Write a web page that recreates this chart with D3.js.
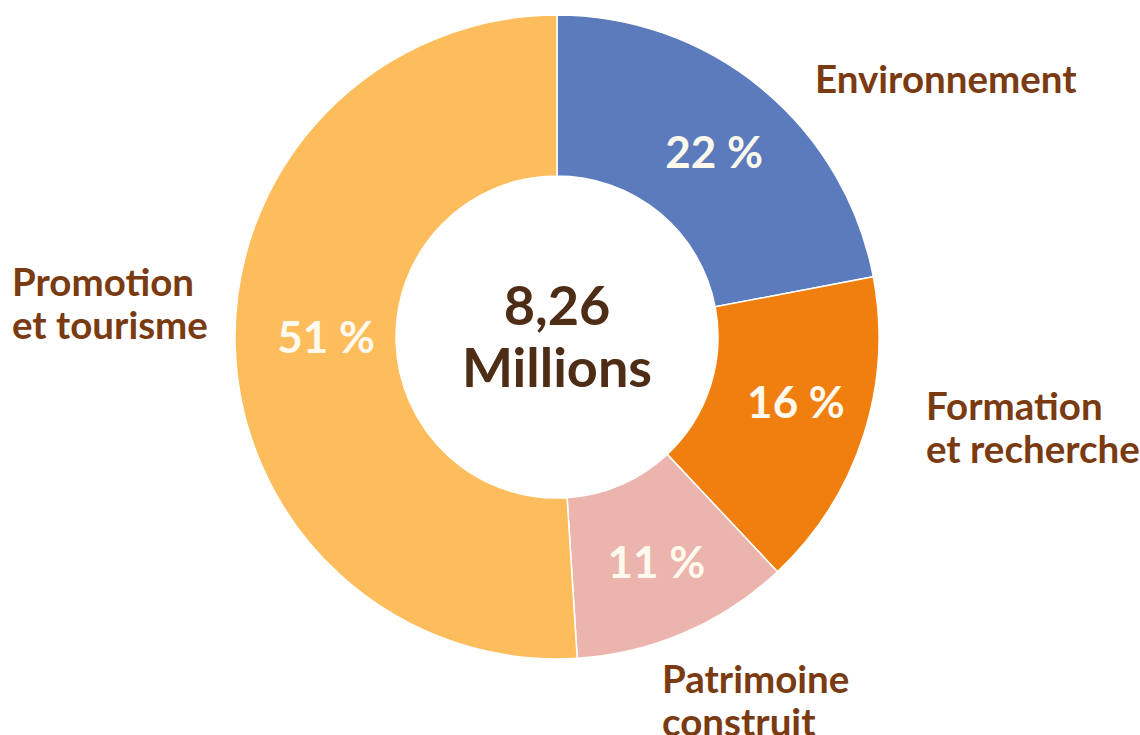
<!DOCTYPE html>
<html>
<head>
<meta charset="utf-8">
<script src="https://cdn.jsdelivr.net/npm/d3@7"></script>
<style>
  body { margin: 0; background: #fff; }
  text { font-family: "Source Sans Pro", Lato, "Open Sans", sans-serif; font-weight: 700; }
</style>
</head>
<body>
<div id="chart-area"></div>
<script>
const categories = ['Environnement', 'Formation et recherche', 'Patrimoine construit', 'Promotion et tourisme'];
const values = [22, 16, 11, 51];
const colors = ['#5B7BBD', '#F07F10', '#EBB4AD', '#FDBD5C'];
// outside labels, split in lines
const labelLines = [['Environnement'], ['Formation', 'et recherche'], ['Patrimoine', 'construit'], ['Promotion', 'et tourisme']];
const centerLines = ['8,26', 'Millions'];

const width = 1140;
const height = 735;
const cx = 557, cy = 337;
const outerR = 322, innerR = 161;

const svg = d3.select('#chart-area').append('svg')
  .attr('width', width)
  .attr('height', height);

const chart = svg.append('g')
  .attr('transform', `translate(${cx},${cy})`);

const data = categories.map((c, i) => ({ name: c, value: values[i], color: colors[i], lines: labelLines[i] }));

const pie = d3.pie().sort(null).value(d => d.value);
const arcs = pie(data);

const arc = d3.arc().innerRadius(innerR).outerRadius(outerR);
const labelArc = d3.arc().innerRadius(245).outerRadius(245);
// small nudges of the percent labels off the centroid
const pctNudge = [[1, 4], [6, -11], [2, 0], [14, -8]];

chart.selectAll('path')
  .data(arcs)
  .enter()
  .append('path')
    .attr('d', arc)
    .attr('fill', d => d.data.color)
    .attr('stroke', '#fff')
    .attr('stroke-width', 1.5);

// percentages
chart.selectAll('.pct')
  .data(arcs)
  .enter()
  .append('text')
    .attr('class', 'pct')
    .attr('transform', (d, i) => {
      const c = labelArc.centroid(d);
      return `translate(${c[0] + pctNudge[i][0]},${c[1] + pctNudge[i][1]})`;
    })
    .attr('text-anchor', 'middle')
    .attr('dy', '0.36em')
    .attr('fill', '#FFF9EE')
    .attr('font-size', '44px')
    .text(d => d.data.value + ' %');

// outside labels (positions relative to the chart center)
const labelPos = [[258, -244], [369, 83], [105, 356], [-545, -41]];
const lineH = 43;

chart.selectAll('.lbl')
  .data(arcs)
  .enter()
  .append('text')
    .attr('class', 'lbl')
    .attr('x', (d, i) => labelPos[i][0])
    .attr('y', (d, i) => labelPos[i][1])
    .attr('fill', '#7A3A12')
    .attr('font-size', '38.5px')
    .selectAll('tspan')
    .data(d => d.data.lines)
    .enter()
    .append('tspan')
      .attr('x', function () { return d3.select(this.parentNode).attr('x'); })
      .attr('dy', (d, i) => i === 0 ? 0 : lineH)
      .text(d => d);

// center text
chart.append('text')
  .attr('text-anchor', 'middle')
  .attr('fill', '#4E2D16')
  .attr('font-size', '54px')
  .selectAll('tspan')
  .data(centerLines)
  .enter()
  .append('tspan')
    .attr('x', 0)
    .attr('y', (d, i) => i === 0 ? -12 : 50)
    .text(d => d);
</script>
</body>
</html>
